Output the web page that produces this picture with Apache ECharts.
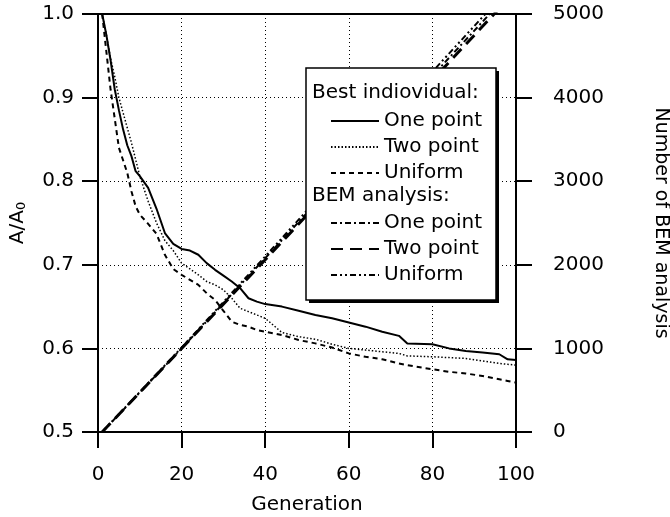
<!DOCTYPE html>
<html>
<head>
<meta charset="utf-8">
<script src="https://cdn.jsdelivr.net/npm/echarts@6/dist/echarts.min.js"></script>
<style>
  html, body { margin: 0; padding: 0; background: #fff; }
  #chart { width: 670px; height: 517px; }
</style>
</head>
<body>
<div id="chart"></div>
<script>
// generations sampled along the best-individual curves
const gens = [1, 2, 3, 4, 5, 6, 7, 8, 9, 10, 12, 14, 16, 18, 20, 22, 24, 26, 28, 30, 32, 34, 36, 38, 40,
  44, 48, 52, 56, 60, 64, 68, 72, 74, 80, 84, 88, 92, 96, 98, 100];

const bestOnePoint = [1.0, 0.975, 0.945, 0.91, 0.885, 0.862, 0.843, 0.83, 0.812, 0.806, 0.792, 0.767, 0.738, 0.725, 0.719,
  0.717, 0.712, 0.702, 0.694, 0.687, 0.68, 0.672, 0.66, 0.656, 0.653,
  0.65, 0.645, 0.64, 0.636, 0.631, 0.626, 0.62, 0.615, 0.606, 0.605, 0.6, 0.597, 0.595, 0.593, 0.587, 0.586];
const bestTwoPoint = [1.0, 0.975, 0.947, 0.925, 0.9, 0.882, 0.864, 0.846, 0.826, 0.806, 0.776, 0.75, 0.729, 0.717, 0.702,
  0.695, 0.688, 0.68, 0.676, 0.67, 0.66, 0.648, 0.644, 0.64, 0.636,
  0.619, 0.614, 0.611, 0.605, 0.6, 0.598, 0.596, 0.594, 0.591, 0.59, 0.589, 0.588, 0.585, 0.582, 0.581, 0.58];
const bestUniform = [1.0, 0.955, 0.91, 0.875, 0.84, 0.825, 0.81, 0.788, 0.77, 0.76, 0.749, 0.737, 0.712, 0.695, 0.688,
  0.682, 0.676, 0.666, 0.658, 0.645, 0.632, 0.628, 0.626, 0.622, 0.62,
  0.616, 0.61, 0.606, 0.601, 0.594, 0.59, 0.587, 0.582, 0.58, 0.575, 0.572, 0.57, 0.567, 0.563, 0.561, 0.559];

// number of BEM analyses
const bemGens = [1, 20, 40, 60, 80, 100];
const bemOnePoint = [0, 1000, 2080, 3160, 4260, 5340];
const bemTwoPoint = [0, 1000, 2060, 3130, 4210, 5280];
const bemUniform = [0, 1010, 2100, 3200, 4310, 5400];

const FONT = 'DejaVu Sans';

const pairs = (xs, ys) => xs.map((x, i) => [x, ys[i]]);

const lineSeries = (name, xs, ys, yAxisIndex, lineStyle) => ({
  name: name,
  type: 'line',
  yAxisIndex: yAxisIndex,
  data: pairs(xs, ys),
  symbol: 'none',
  clip: true,
  z: 2,
  lineStyle: Object.assign({ color: '#000' }, lineStyle),
  itemStyle: { color: '#000' }
});

const legendBase = {
  orient: 'vertical',
  left: 330,
  padding: 0,
  itemWidth: 48,
  itemHeight: 14,
  itemGap: 4,
  z: 30,
  selectedMode: false,
  itemStyle: { opacity: 0 },
  textStyle: { fontFamily: FONT, fontSize: 20, color: '#000', lineHeight: 22 }
};

const chart = echarts.init(document.getElementById('chart'));

chart.setOption({
  animation: false,
  textStyle: { fontFamily: FONT, color: '#000' },
  grid: {
    left: 98,
    right: 154,
    top: 14,
    bottom: 85,
    outerBoundsMode: 'none',
    containLabel: false,
    show: true,
    borderColor: '#000',
    borderWidth: 2
  },
  legend: [
    Object.assign({}, legendBase, {
      data: ['Best: One point', 'Best: Two point', 'Best: Uniform'],
      top: 110,
      formatter: (n) => n.replace('Best: ', '')
    }),
    Object.assign({}, legendBase, {
      data: ['BEM: One point', 'BEM: Two point', 'BEM: Uniform'],
      top: 212,
      formatter: (n) => n.replace('BEM: ', '')
    })
  ],
  graphic: {
    z: 20,
    elements: [
      { type: 'rect', z: 20, shape: { x: 309, y: 71, width: 190, height: 232 }, style: { fill: '#000' } },
      { type: 'rect', z: 21, shape: { x: 306, y: 68, width: 190, height: 232 }, style: { fill: '#fff', stroke: '#000', lineWidth: 1.5 } },
      { type: 'text', z: 22, x: 312, y: 93, style: { text: 'Best indiovidual:', font: '20px ' + FONT, fill: '#000', verticalAlign: 'middle' } },
      { type: 'text', z: 22, x: 312, y: 196, style: { text: 'BEM analysis:', font: '20px ' + FONT, fill: '#000', verticalAlign: 'middle' } }
    ]
  },
  xAxis: {
    type: 'value',
    min: 0,
    max: 100,
    interval: 20,
    name: 'Generation',
    nameLocation: 'middle',
    nameGap: 63,
    nameTextStyle: { fontFamily: FONT, fontSize: 20, color: '#000' },
    axisLine: { lineStyle: { color: '#000', width: 2 } },
    axisTick: { inside: false, length: 16, lineStyle: { color: '#000', width: 2 } },
    axisLabel: { margin: 33, fontFamily: FONT, fontSize: 20, color: '#000' },
    splitLine: { show: true, lineStyle: { color: '#000', type: [1, 3], width: 1 } }
  },
  yAxis: [
    {
      type: 'value',
      min: 0.5,
      max: 1.0,
      interval: 0.1,
      position: 'left',
      name: '{a|A/A}{s|0}',
      nameLocation: 'middle',
      nameGap: 70,
      nameTextStyle: {
        rich: {
          a: { fontFamily: FONT, fontSize: 20, color: '#000' },
          s: { fontFamily: FONT, fontSize: 13, color: '#000', padding: [8, 0, 0, 0] }
        }
      },
      axisLine: { show: true, lineStyle: { color: '#000', width: 2 } },
      axisTick: { inside: false, length: 16, lineStyle: { color: '#000', width: 2 } },
      axisLabel: { margin: 24, fontFamily: FONT, fontSize: 20, color: '#000', formatter: (v) => v.toFixed(1) },
      splitLine: { show: true, lineStyle: { color: '#000', type: [1, 3], width: 1 } }
    },
    {
      type: 'value',
      min: 0,
      max: 5000,
      interval: 1000,
      position: 'right',
      name: 'Number of BEM analysis',
      nameLocation: 'middle',
      nameRotate: -90,
      nameGap: 135,
      nameTextStyle: { fontFamily: FONT, fontSize: 19, color: '#000' },
      axisLine: { show: true, lineStyle: { color: '#000', width: 2 } },
      axisTick: { inside: false, length: 16, lineStyle: { color: '#000', width: 2 } },
      axisLabel: { margin: 37, fontFamily: FONT, fontSize: 20, color: '#000', formatter: (v) => String(v) },
      splitLine: { show: false }
    }
  ],
  series: [
    lineSeries('Best: One point', gens, bestOnePoint, 0, { width: 2, type: 'solid' }),
    lineSeries('Best: Two point', gens, bestTwoPoint, 0, { width: 1.5, type: [1.5, 2] }),
    lineSeries('Best: Uniform', gens, bestUniform, 0, { width: 2, type: [5, 4] }),
    lineSeries('BEM: One point', bemGens, bemOnePoint, 1, { width: 2, type: [6, 3, 2, 3] }),
    lineSeries('BEM: Two point', bemGens, bemTwoPoint, 1, { width: 3, type: [12, 7] }),
    lineSeries('BEM: Uniform', bemGens, bemUniform, 1, { width: 2, type: [6, 3, 2, 3, 2, 3] })
  ]
});
</script>
</body>
</html>
